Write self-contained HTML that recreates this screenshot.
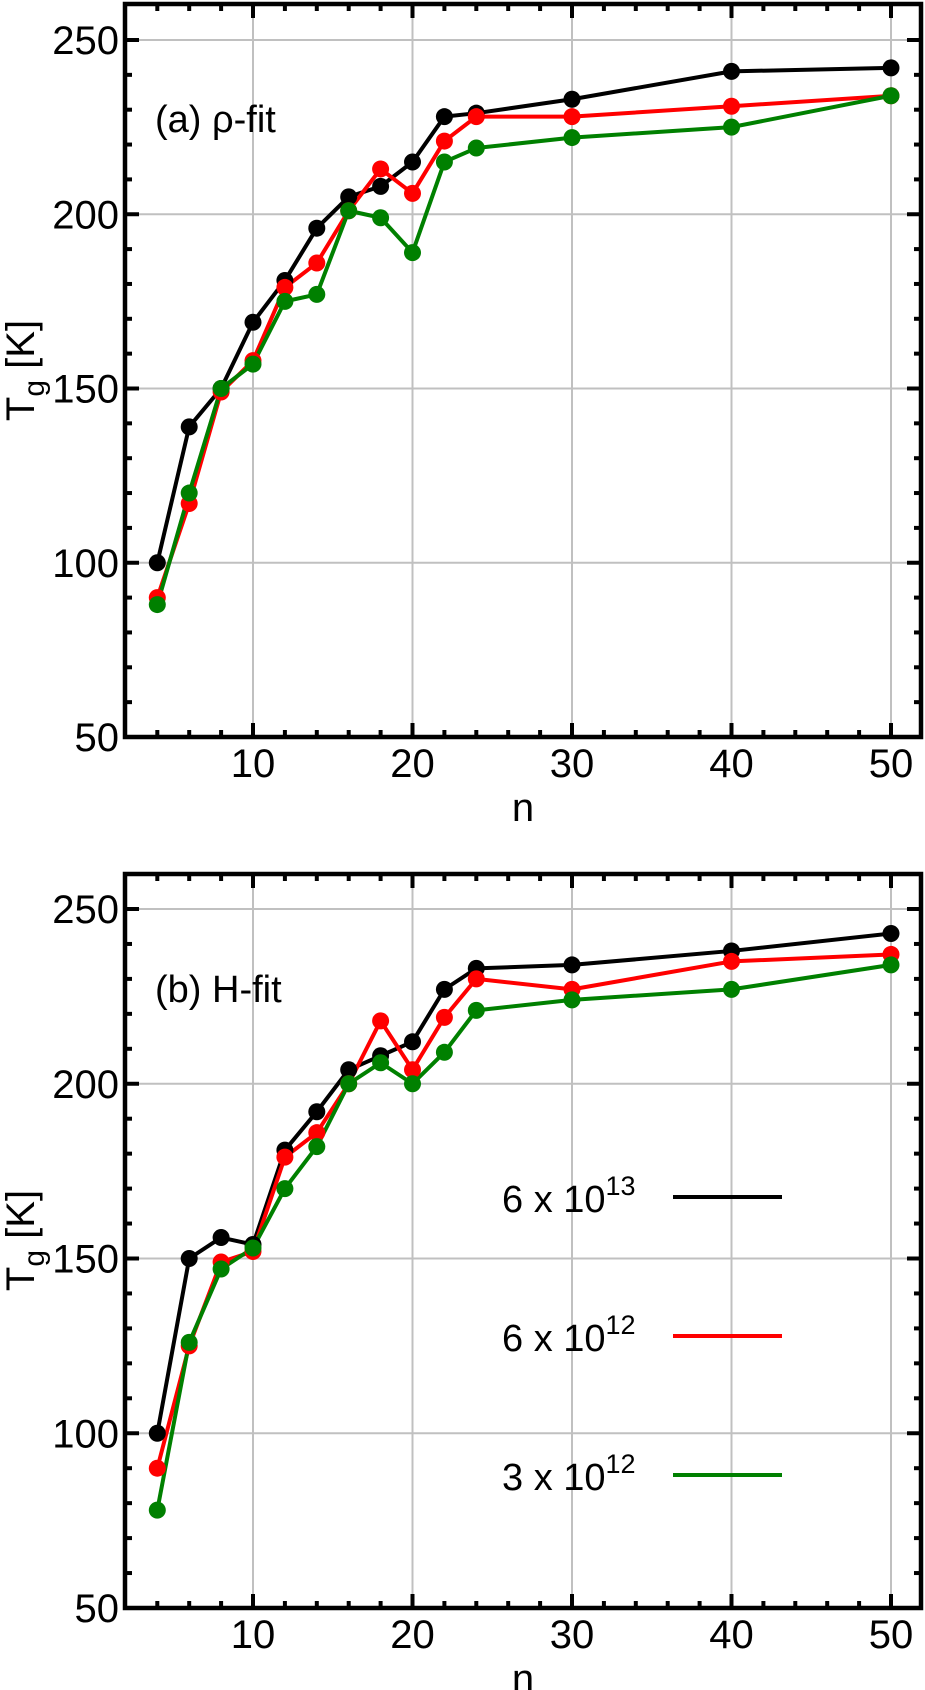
<!DOCTYPE html>
<html><head><meta charset="utf-8">
<style>
html,body{margin:0;padding:0;background:#fff;}
svg{display:block;font-family:"Liberation Sans",sans-serif;}
</style></head>
<body>
<svg id="chart" width="925" height="1690" viewBox="0 0 925 1690" xmlns="http://www.w3.org/2000/svg"></svg>
<script>
const nValues = [4,6,8,10,12,14,16,18,20,22,24,30,40,50];
const aBlack = [100,139,150,169,181,196,205,208,215,228,229,233,241,242];
const aRed   = [90,117,149,158,179,186,201,213,206,221,228,228,231,234];
const aGreen = [88,120,150,157,175,177,201,199,189,215,219,222,225,234];
const bBlack = [100,150,156,154,181,192,204,208,212,227,233,234,238,243];
const bRed   = [90,125,149,152,179,186,200,218,204,219,230,227,235,237];
const bGreen = [78,126,147,153,170,182,200,206,200,209,221,224,227,234];
const xTickLabels = [10,20,30,40,50];
const yTickLabels = [50,100,150,200,250];
const seriesNames = ["6 x 10", "6 x 10", "3 x 10"];
const seriesExps = ["13","12","12"];
const colors = ["#000000","#ff0000","#008000"];

const NS = "http://www.w3.org/2000/svg";
const svg = document.getElementById("chart");
function mk(tag, attrs, parent){
  const e = document.createElementNS(NS, tag);
  for (const k in attrs) e.setAttribute(k, attrs[k]);
  (parent||svg).appendChild(e);
  return e;
}
const L = 125, R = 921;
function xs(n){ return 93.5 + 15.95 * n; }

function panel(top, bottom, y250, label, key, series){
  const g = mk("g", {});
  
  
  const k = (bottom - y250) / 200;
  const ys = v => bottom - (v - 50) * k;
  // grid
  xTickLabels.forEach(t => {
    const l = mk("line", {x1: xs(t), x2: xs(t), y1: top, y2: bottom, stroke: "#c0c0c0", "stroke-width": 2}, g);
    
    
  });
  yTickLabels.forEach(t => {
    const l = mk("line", {x1: L, x2: R, y1: ys(t), y2: ys(t), stroke: "#c0c0c0", "stroke-width": 2}, g);
    
    
  });
  // ticks
  for (let n = 4; n <= 50; n += 2) {
    const len = n % 10 === 0 ? 14 : 7;
    mk("line", {x1: xs(n), x2: xs(n), y1: bottom, y2: bottom - len, stroke: "#000", "stroke-width": 4}, g);
    mk("line", {x1: xs(n), x2: xs(n), y1: top, y2: top + len, stroke: "#000", "stroke-width": 4}, g);
  }
  for (let v = 60; v <= 250; v += 10) {
    const len = v % 50 === 0 ? 14 : 7;
    mk("line", {x1: L, x2: L + len, y1: ys(v), y2: ys(v), stroke: "#000", "stroke-width": 4}, g);
    mk("line", {x1: R, x2: R - len, y1: ys(v), y2: ys(v), stroke: "#000", "stroke-width": 4}, g);
  }
  // series
  series.forEach((s, i) => {
    const pts = nValues.map((n, j) => xs(n) + "," + ys(s[j])).join(" ");
    const pl = mk("polyline", {points: pts, fill: "none", stroke: colors[i], "stroke-width": 4, "stroke-linejoin": "round"}, g);
    
    
  });
  series.forEach((s, i) => {
    nValues.forEach((n, j) => {
      const c = mk("circle", {cx: xs(n), cy: ys(s[j]), r: 8.5, fill: colors[i]}, g);
      
      
    });
  });
  // frame
  const fr = mk("rect", {x: L, y: top, width: R - L, height: bottom - top, fill: "none", stroke: "#000", "stroke-width": 4.5}, g);
  
  
  // tick labels
  xTickLabels.forEach(t => {
    const tx = mk("text", {x: xs(t), y: bottom + 40, "font-size": 40, "text-anchor": "middle"}, g);
    tx.textContent = t;
    
    
  });
  yTickLabels.forEach(t => {
    const tx = mk("text", {x: L - 6, y: ys(t) + 14, "font-size": 40, "text-anchor": "end"}, g);
    tx.textContent = t;
    
    
  });
  const xt = mk("text", {x: 523, y: bottom + 84, "font-size": 40, "text-anchor": "middle"}, g);
  xt.textContent = "n";
  
  
  const cy = ys(150) - 18;
  const yt = mk("text", {x: 0, y: 0, "font-size": 40, "text-anchor": "middle", transform: "translate(34," + cy + ") rotate(-90)"}, g);
  yt.innerHTML = 'T<tspan font-size="30" dy="10">g</tspan><tspan dy="-10"> [K]</tspan>';
  
  
  const pl = mk("text", {x: 155, y: top + 128, "font-size": 38}, g);
  pl.textContent = label;
  
  
  return ys;
}

panel(4, 737, 40, "(a) \u03c1-fit", "a", [aBlack, aRed, aGreen]);
panel(874, 1608, 909, "(b) H-fit", "b", [bBlack, bRed, bGreen]);

// legend
const lg = mk("g", {});


seriesNames.forEach((nm, i) => {
  const y = 1197 + i * 139;
  const t = mk("text", {x: 502, y: y + 15, "font-size": 38}, lg);
  t.innerHTML = nm + '<tspan font-size="27" dy="-17">' + seriesExps[i] + '</tspan>';
  
  
  const ln = mk("line", {x1: 673, x2: 782, y1: y, y2: y, stroke: colors[i], "stroke-width": 4}, lg);
  
  
});
</script>
</body></html>
